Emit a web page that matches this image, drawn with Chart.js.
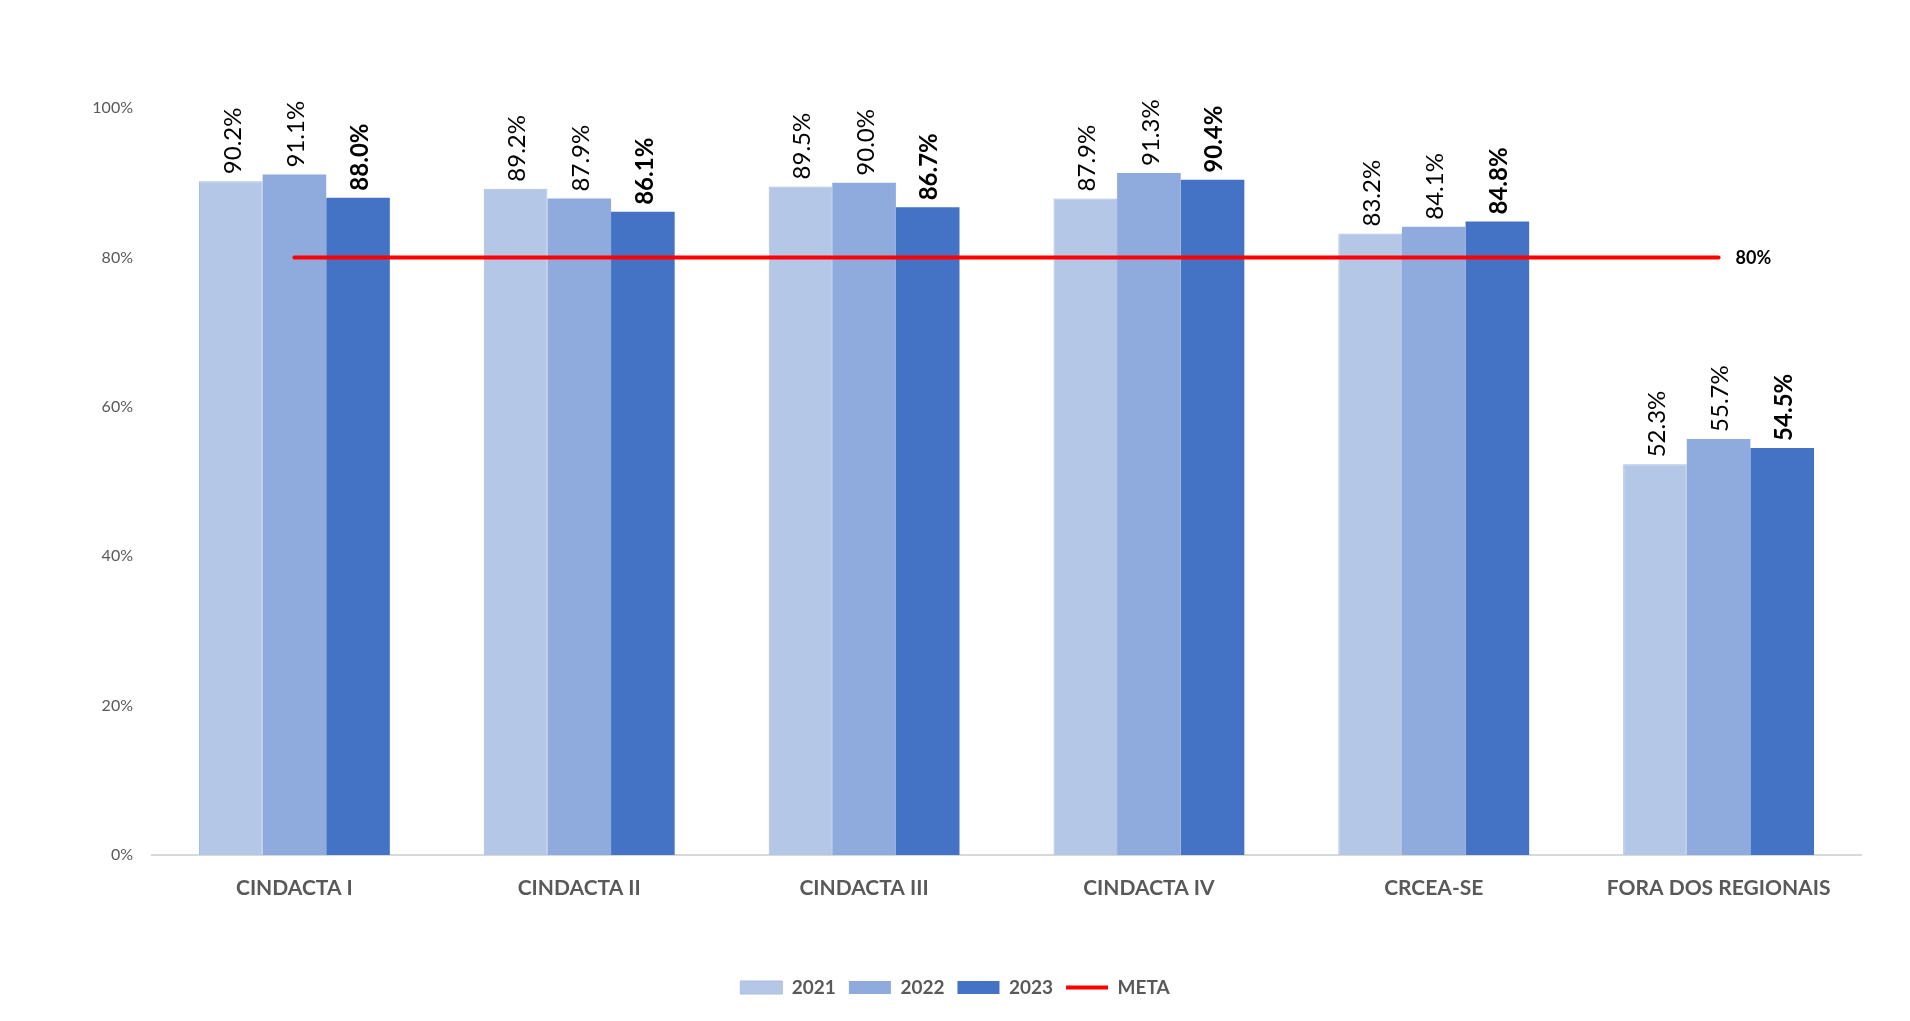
<!DOCTYPE html>
<html>
<head>
<meta charset="utf-8">
<script src="https://cdn.jsdelivr.net/npm/chart.js@4/dist/chart.umd.min.js"></script>
<style>
  html, body { margin: 0; padding: 0; background: #fff; }
  #wrap { width: 1910px; height: 1021px; }
</style>
</head>
<body>
<div id="wrap"><canvas id="chart"></canvas></div>
<script>
// categories and series (percent)
const categories = ["CINDACTA I", "CINDACTA II", "CINDACTA III", "CINDACTA IV", "CRCEA-SE", "FORA DOS REGIONAIS"];
const values2021 = [90.2, 89.2, 89.5, 87.9, 83.2, 52.3];
const values2022 = [91.1, 87.9, 90.0, 91.3, 84.1, 55.7];
const values2023 = [88.0, 86.1, 86.7, 90.4, 84.8, 54.5];
const meta = [80, 80, 80, 80, 80, 80];
const yTicks = [0, 20, 40, 60, 80, 100];

const FONT = "Lato, 'Open Sans', sans-serif";

// draws the rotated value labels above bars and the "80%" at the end of META
const valueLabels = {
    id: "valueLabels",
    afterDatasetsDraw(chart) {
        const ctx = chart.ctx;
        chart.data.datasets.forEach((ds, i) => {
            const meta = chart.getDatasetMeta(i);
            if (ds.type === "line") {
                const last = meta.data[meta.data.length - 1];
                ctx.save();
                ctx.font = "bold 18px " + FONT;
                ctx.fillStyle = "#000";
                ctx.textAlign = "left";
                ctx.textBaseline = "middle";
                ctx.fillText(ds.data[ds.data.length - 1] + "%", last.x + 17, last.y + 1);
                ctx.restore();
                return;
            }
            meta.data.forEach((bar, j) => {
                ctx.save();
                ctx.translate(bar.x + 2, bar.y - 7);
                ctx.rotate(-Math.PI / 2);
                ctx.font = (ds.boldLabels ? "bold " : "") + "24px " + FONT;
                ctx.fillStyle = "#000";
                ctx.textAlign = "left";
                ctx.textBaseline = "middle";
                ctx.fillText(ds.data[j].toFixed(1) + "%", 0, 0);
                ctx.restore();
            });
        });
    }
};

new Chart(document.getElementById("chart"), {
    data: {
        labels: categories,
        datasets: [
            {
                type: "line", label: "META", data: meta,
                borderColor: "#FF0000", backgroundColor: "#FF0000",
                borderWidth: 4, borderCapStyle: "round", pointRadius: 0,
                pointStyle: "line", order: 0
            },
            {
                type: "bar", label: "2021", data: values2021,
                backgroundColor: "#B4C7E7", borderColor: "#A9BDE3", borderWidth: 1,
                pointStyle: "rect", order: 1
            },
            {
                type: "bar", label: "2022", data: values2022,
                backgroundColor: "#8FAADC", borderWidth: 0,
                pointStyle: "rect", order: 1
            },
            {
                type: "bar", label: "2023", data: values2023,
                backgroundColor: "#4472C4", borderWidth: 0,
                pointStyle: "rect", order: 1, boldLabels: true
            }
        ]
    },
    options: {
        responsive: true,
        maintainAspectRatio: false,
        animation: false,
        layout: { padding: { left: 0, right: 0, top: 108, bottom: 14 } },
        datasets: { bar: { barPercentage: 1, categoryPercentage: 0.67 } },
        scales: {
            x: {
                grid: { display: false, drawTicks: false },
                border: { color: "#D9D9D9", width: 2 },
                ticks: { color: "#595959", font: { family: FONT, size: 21, weight: "bold" }, padding: 21, maxRotation: 0 },
                afterFit(scale) { scale.height = 110; }
            },
            y: {
                min: 0, max: 100,
                afterBuildTicks(scale) { scale.ticks = yTicks.map(v => ({ value: v })); },
                grid: { display: false, drawTicks: false },
                border: { display: false },
                ticks: { color: "#595959", font: { family: FONT, size: 16 }, padding: 19, callback: v => v + "%" },
                afterFit(scale) { scale.width = 152; }
            },
            // empty right margin so the legend centres on the whole canvas
            yRight: {
                position: "right", display: true,
                grid: { display: false, drawTicks: false },
                border: { display: false },
                ticks: { display: false },
                afterFit(scale) { scale.width = 49; }
            }
        },
        plugins: {
            legend: {
                position: "bottom",
                labels: {
                    usePointStyle: true,
                    pointStyleWidth: 42,
                    boxHeight: 13,
                    padding: 13,
                    color: "#595959",
                    font: { family: FONT, size: 19, weight: "bold" },
                    sort: (a, b) => (a.text === "META") - (b.text === "META")
                }
            },
            tooltip: { enabled: false }
        }
    },
    plugins: [valueLabels]
});
</script>
</body>
</html>
